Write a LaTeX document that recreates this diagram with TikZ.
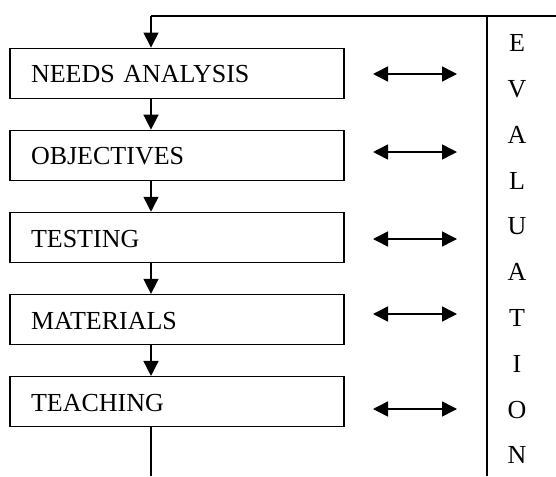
\documentclass[tikz,border=0pt]{standalone}
\usepackage{fontspec}
\setmainfont{Liberation Serif}
\usetikzlibrary{arrows.meta}
\begin{document}
\begin{tikzpicture}[x=1pt,y=-1pt,
  line width=1.5pt,
  stagebox/.style={draw, rectangle, minimum width=334pt, minimum height=50pt,
    text width=292pt, inner xsep=21pt, inner ysep=0pt, align=left,
    text height=19pt, text depth=0pt, font=\fontsize{26}{30}\selectfont},
  letter/.style={anchor=base, inner sep=0pt, font=\fontsize{26}{30}\selectfont},
  flow/.style={-{Triangle[length=15pt,width=15pt]}},
  dbl/.style={{Triangle[length=15pt,width=15pt]}-{Triangle[length=15pt,width=15pt]}}]
\useasboundingbox (0,0) rectangle (556,476);
% stage boxes
\node[stagebox] (n1) at (177,73.3) {NEEDS ANALYSIS};
\node[stagebox] (n2) at (177,155.4) {OBJECTIVES};
\node[stagebox] (n3) at (177,237.5) {TESTING};
\node[stagebox] (n4) at (177,319.6) {MATERIALS};
\node[stagebox] (n5) at (177,401.7) {TEACHING};
% spine coordinates
\coordinate (spine) at (151,0);
\coordinate (tl) at (151,16);
\coordinate (tr) at (556,16);
\coordinate (evt) at (487,16);
\coordinate (evb) at (487,476);
\coordinate (bot) at (151,476);
% feedback loop
\draw (tr) -- (tl);
\draw[flow] (tl) -- (n1.north -| spine);
\draw[flow] (n1.south -| spine) -- (n2.north -| spine);
\draw[flow] (n2.south -| spine) -- (n3.north -| spine);
\draw[flow] (n3.south -| spine) -- (n4.north -| spine);
\draw[flow] (n4.south -| spine) -- (n5.north -| spine);
\draw (n5.south -| spine) -- (bot);
\draw (evt) -- (evb);
% double arrows
\foreach \i/\y in {1/74,2/152,3/239,4/314,5/409}{
  \coordinate (l\i) at (373,\y);
  \coordinate (r\i) at (457,\y);
  \draw[dbl] (l\i) -- (r\i);
}
% evaluation letters
\foreach \ch [count=\k from 0] in {E,V,A,L,U,A,T,I,O,N}{
  \node[letter] (e\k) at (517,51.7+45.8*\k) {\ch};
}
\end{tikzpicture}
\end{document}
